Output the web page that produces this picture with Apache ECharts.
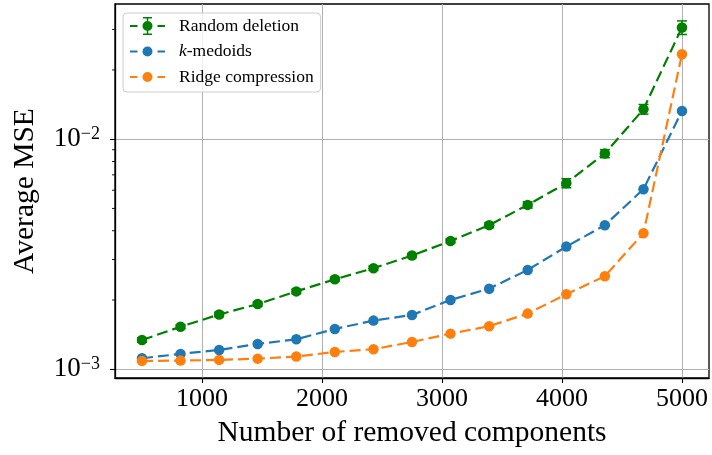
<!DOCTYPE html>
<html>
<head>
<meta charset="utf-8">
<script src="https://cdn.jsdelivr.net/npm/echarts@6/dist/echarts.min.js"></script>
</head>
<body style="margin:0">
<div id="chart" style="width:712px;height:455px"></div>
<script>
// removed components on the x axis
var xValues = [500, 821, 1143, 1464, 1786, 2107, 2429, 2750, 3071, 3393, 3714, 4036, 4357, 4679, 5000];
// average MSE per method
var randomDel = [0.00134, 0.00153, 0.00173, 0.00192, 0.00218, 0.00246, 0.00275, 0.00312, 0.00361, 0.00423, 0.00518, 0.00644, 0.00866, 0.0135, 0.0306];
var randomErr = [0.00003, 0.00003, 0.00004, 0.00004, 0.00005, 0.00005, 0.00006, 0.00006, 0.00007, 0.00011, 0.00016, 0.00029, 0.00035, 0.00065, 0.00208];
var kMedoids = [0.001116, 0.001166, 0.001213, 0.001288, 0.00135, 0.001497, 0.001627, 0.001722, 0.002001, 0.00224, 0.002702, 0.003412, 0.004228, 0.006064, 0.01327];
var ridge = [0.001087, 0.00109, 0.001098, 0.001112, 0.001135, 0.001189, 0.001222, 0.001314, 0.001428, 0.001538, 0.001745, 0.002119, 0.002537, 0.003903, 0.02342];
// tick positions
var xTicks = [1000, 2000, 3000, 4000, 5000];
var yTicks = [0.001, 0.01];
var yMinorTicks = [0.002, 0.003, 0.004, 0.005, 0.006, 0.007, 0.008, 0.009, 0.02, 0.03];
var names = ['Random deletion', 'k-medoids', 'Ridge compression'];

var X_MIN = 275, X_MAX = 5225;
var FONT = 'Liberation Serif';
var GREEN = '#008000', BLUE = '#1f77b4', ORANGE = '#ff7f0e';

function pairs(ys) {
    var out = [];
    for (var i = 0; i < xValues.length; i++) out.push([xValues[i], ys[i]]);
    return out;
}
var errData = [];
for (var i = 0; i < xValues.length; i++) errData.push([xValues[i], randomDel[i], randomErr[i]]);

// legend icons: dash, dot, dash (+ error bar for the first one)
var plainIcon = 'path://M0 9H7.5V11H0ZM27.5 9H35V11H27.5ZM12.5 10A5 5 0 1 1 22.5 10A5 5 0 1 1 12.5 10Z';
var errIcon = plainIcon + 'M16.75 1H18.25V19H16.75ZM13 1H22V2.5H13ZM13 17.5H22V19H13Z';

var lineSeries = function (name, ys, color) {
    return {
        name: name,
        type: 'line',
        data: pairs(ys),
        symbol: 'circle',
        symbolSize: 10.5,
        itemStyle: { color: color, borderWidth: 0 },
        lineStyle: { color: color, width: 2.2, type: [11, 5] },
        emphasis: { disabled: true },
        animation: false
    };
};

var chart = echarts.init(document.getElementById('chart'));
chart.setOption({
    animation: false,
    backgroundColor: '#fff',
    textStyle: { fontFamily: FONT },
    grid: {
        left: 115, right: 3, top: 4, bottom: 77,
        show: true, borderColor: '#000', borderWidth: 1.3
    },
    legend: {
        orient: 'vertical',
        left: 123, top: 13,
        padding: [3, 7, 5, 7],
        itemWidth: 35, itemHeight: 20, itemGap: 5.5,
        backgroundColor: 'rgba(255,255,255,0.8)',
        borderColor: '#cccccc', borderWidth: 1, borderRadius: 4,
        itemStyle: { borderWidth: 0 },
        data: [
            { name: names[0], icon: errIcon },
            { name: names[1], icon: plainIcon },
            { name: names[2], icon: plainIcon }
        ],
        formatter: function (n) {
            return n === 'k-medoids' ? '{i|k}-medoids' : n;
        },
        textStyle: {
            fontFamily: FONT, fontSize: 17.5, color: '#000', padding: [0, 0, 0, 9], lineHeight: 20,
            rich: { i: { fontFamily: FONT, fontSize: 17.5, fontStyle: 'italic', color: '#000', lineHeight: 20 } }
        }
    },
    xAxis: {
        type: 'value',
        min: X_MIN, max: X_MAX,
        name: 'Number of removed components',
        nameLocation: 'middle', nameGap: 40,
        nameTextStyle: { fontFamily: FONT, fontSize: 29.5, color: '#000' },
        axisLine: { show: true, lineStyle: { color: '#000', width: 1.3 } },
        axisTick: { show: true, length: 5, customValues: xTicks, lineStyle: { color: '#000', width: 1.1 } },
        axisLabel: {
            fontFamily: FONT, fontSize: 26, color: '#000', margin: 8,
            customValues: xTicks,
            formatter: function (v) { return String(v); }
        },
        splitLine: { show: true, lineStyle: { color: '#b0b0b0', width: 1 } }
    },
    yAxis: {
        type: 'log', logBase: 10,
        min: 0.000916, max: 0.0387,
        name: 'Average MSE',
        nameLocation: 'middle', nameGap: 75,
        nameTextStyle: { fontFamily: FONT, fontSize: 29.5, color: '#000' },
        axisLine: { show: true, lineStyle: { color: '#000', width: 1.3 } },
        axisTick: { show: true, length: 5, customValues: yTicks, lineStyle: { color: '#000', width: 1.1 } },
        minorTick: { show: false },
        axisLabel: {
            margin: 15,
            customValues: yTicks,
            formatter: function (v) {
                var e = Math.round(Math.log(v) / Math.LN10);
                return '{b|10}{s|\u2212' + (-e) + '}';
            },
            rich: {
                b: { fontFamily: FONT, fontSize: 27, color: '#000', lineHeight: 27 },
                s: { fontFamily: FONT, fontSize: 18, color: '#000', verticalAlign: 'top', lineHeight: 18 }
            }
        },
        splitLine: { show: true, lineStyle: { color: '#b0b0b0', width: 1 } }
    },
    series: [
        lineSeries(names[0], randomDel, GREEN),
        lineSeries(names[1], kMedoids, BLUE),
        lineSeries(names[2], ridge, ORANGE),
        {
            // error bars of random deletion
            type: 'custom',
            data: errData,
            clip: false,
            silent: true,
            z: 3,
            renderItem: function (params, api) {
                var x = api.value(0), y = api.value(1), e = api.value(2);
                var lo = api.coord([x, y - e]);
                var hi = api.coord([x, y + e]);
                var st = { stroke: GREEN, lineWidth: 1.5 };
                return {
                    type: 'group',
                    children: [
                        { type: 'line', shape: { x1: lo[0], y1: lo[1], x2: hi[0], y2: hi[1] }, style: st },
                        { type: 'line', shape: { x1: lo[0] - 5, y1: lo[1], x2: lo[0] + 5, y2: lo[1] }, style: st },
                        { type: 'line', shape: { x1: hi[0] - 5, y1: hi[1], x2: hi[0] + 5, y2: hi[1] }, style: st }
                    ]
                };
            }
        },
        {
            // minor ticks of the log axis
            type: 'custom',
            data: yMinorTicks.map(function (v) { return [X_MIN, v]; }),
            clip: false,
            silent: true,
            renderItem: function (params, api) {
                var p = api.coord([api.value(0), api.value(1)]);
                var x0 = params.coordSys.x;
                return {
                    type: 'line',
                    shape: { x1: x0 - 3, y1: p[1], x2: x0, y2: p[1] },
                    style: { stroke: '#000', lineWidth: 0.9 }
                };
            }
        }
    ]
});
</script>
</body>
</html>
